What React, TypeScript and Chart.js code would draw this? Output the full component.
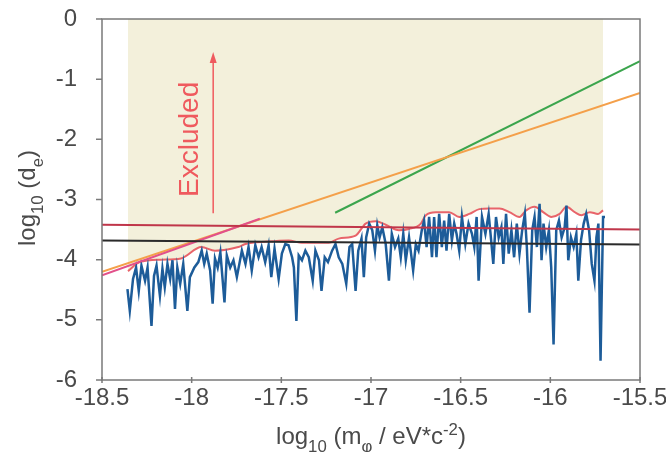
import React, { useEffect, useRef } from 'react';
import { Chart, registerables } from 'chart.js';

Chart.register(...registerables);

// ---------- data ----------
const xTickValues = [-18.5, -18, -17.5, -17, -16.5, -16, -15.5];
const xTickLabels = ['-18.5', '-18', '-17.5', '-17', '-16.5', '-16', '-15.5'];
const yTickValues = [0, -1, -2, -3, -4, -5, -6];
const yTickLabels = ['0', '-1', '-2', '-3', '-4', '-5', '-6'];

const blueX = [
  -18.358, -18.345, -18.327, -18.31, -18.295, -18.28, -18.26, -18.246, -18.224, -18.21,
  -18.196, -18.177, -18.163, -18.15, -18.135, -18.12, -18.107, -18.093, -18.08, -18.064,
  -18.047, -18.024, -18.01, -17.985, -17.963, -17.944, -17.93, -17.916, -17.897, -17.883,
  -17.87, -17.855, -17.84, -17.817, -17.804, -17.785, -17.767, -17.748, -17.72, -17.7,
  -17.683, -17.665, -17.645, -17.627, -17.61, -17.59, -17.571, -17.556, -17.538, -17.515,
  -17.497, -17.478, -17.46, -17.44, -17.43, -17.416, -17.403, -17.385, -17.366, -17.347,
  -17.325, -17.31, -17.29, -17.276, -17.258, -17.24, -17.217, -17.198, -17.18, -17.16,
  -17.138, -17.12, -17.105, -17.086, -17.071, -17.053, -17.04, -17.027, -17.01, -16.993,
  -16.978, -16.965, -16.952, -16.937, -16.918, -16.9, -16.884, -16.866, -16.848, -16.834,
  -16.82, -16.806, -16.788, -16.765, -16.75, -16.735, -16.717, -16.704, -16.69, -16.676,
  -16.66, -16.648, -16.635, -16.62, -16.605, -16.592, -16.579, -16.564, -16.549, -16.536,
  -16.523, -16.508, -16.493, -16.474, -16.456, -16.437, -16.424, -16.411, -16.4, -16.381,
  -16.362, -16.344, -16.33, -16.318, -16.303, -16.288, -16.273, -16.262, -16.247, -16.232,
  -16.217, -16.202, -16.187, -16.172, -16.157, -16.142, -16.131, -16.116, -16.101, -16.088,
  -16.075, -16.06, -16.049, -16.038, -16.023, -16.008, -15.995, -15.982, -15.967, -15.952,
  -15.937, -15.92, -15.91, -15.9, -15.885, -15.87, -15.855, -15.844, -15.829, -15.814,
  -15.8, -15.784, -15.769, -15.754, -15.743, -15.732, -15.72, -15.706, -15.695,
];
const blueY = [
  -4.49, -4.85, -4.32, -4.13, -4.52, -4.1, -4.35, -4.13, -5.1, -4.27,
  -4.1, -4.6, -4.15, -4.46, -4.07, -4.32, -4.01, -4.82, -4.13, -4.4,
  -4.07, -4.85, -4.29, -4.13, -4.04, -3.85, -4.07, -3.9, -4.18, -4.73,
  -3.98, -4.13, -3.88, -4.71, -3.93, -4.13, -4.01, -4.29, -3.85, -4.07,
  -3.79, -4.18, -3.76, -3.96, -3.79, -4.04, -3.76, -4.29, -3.82, -4.32,
  -3.9, -3.74, -3.76, -3.96, -4.13, -5.02, -3.93, -4.01, -3.85, -3.96,
  -4.35, -3.85, -4.01, -4.52, -3.96, -4.04, -3.85, -3.74, -3.96, -4.07,
  -4.4, -3.79, -3.74, -4.52, -3.85, -3.65, -4.29, -3.63, -3.4, -3.51,
  -3.85, -3.43, -3.63, -3.46, -3.74, -4.35, -3.57, -3.79, -3.65, -3.96,
  -3.57, -4.01, -3.63, -4.18, -3.74, -3.85, -3.51, -3.35, -3.79, -3.29,
  -3.96, -3.29, -3.96, -3.24, -3.79, -3.35, -3.85, -3.24, -3.68, -3.4,
  -3.57, -3.85, -3.29, -3.74, -3.4, -3.57, -3.79, -3.29, -4.35, -3.29,
  -3.57, -3.24, -3.68, -4.07, -3.29, -3.63, -3.46, -4.07, -3.24, -3.9,
  -3.51, -3.96, -3.4, -3.9, -3.51, -3.24, -3.79, -4.88, -3.51, -3.29,
  -3.79, -3.07, -4.01, -3.4, -3.79, -3.51, -4.13, -5.41, -3.51, -3.35,
  -3.63, -3.46, -3.1, -4.01, -3.63, -3.79, -3.57, -4.35, -3.68, -3.4,
  -3.24, -3.51, -4.07, -4.35, -3.63, -3.4, -5.68, -3.29, -3.29,
];

const envX = [
  -18.355, -18.29, -18.17, -18.06, -17.946, -17.87, -17.74, -17.7, -17.58, -17.46,
  -17.385, -17.235, -17.18, -17.086, -17.03, -16.974, -16.918, -16.844, -16.788, -16.722,
  -16.694, -16.638, -16.564, -16.508, -16.452, -16.396, -16.34, -16.284, -16.228, -16.172,
  -16.135, -16.088, -16.04, -15.995, -15.948, -15.91, -15.864, -15.827, -15.78, -15.734,
  -15.706,
];
const envY = [
  -4.19, -4.04, -4.0, -3.98, -3.79, -3.85, -3.79, -3.74, -3.7, -3.68,
  -3.72, -3.72, -3.65, -3.6, -3.4, -3.36, -3.42, -3.51, -3.49, -3.4,
  -3.26, -3.21, -3.21, -3.29, -3.24, -3.16, -3.15, -3.15, -3.21, -3.29,
  -3.18, -3.12, -3.21, -3.29, -3.24, -3.12, -3.21, -3.26, -3.21, -3.24,
  -3.18,
];

const redLineX = [-18.5, -15.5];
const redLineY = [-3.42, -3.5];
const blackLineX = [-18.5, -15.5];
const blackLineY = [-3.68, -3.75];
const orangeX = [-18.5, -15.5];
const orangeY = [-4.2, -1.23];
const pinkX = [-18.5, -17.62];
const pinkY = [-4.26, -3.32];
const greenX = [-17.2, -15.5];
const greenY = [-3.22, -0.7];

const arrowX = -17.88;
const arrowFrom = -3.23;
const arrowTo = -0.55;
const excludedText = 'Excluded';
const excludedX = -18.01;
const excludedY = -2.0;

const FONT = '"Liberation Sans", Arial, sans-serif';

const pts = (xs: number[], ys: number[]) => xs.map((x, i) => ({ x, y: ys[i] }));

type Part = { t: string; k: 'n' | 'sub' | 'sup' };

function drawRich(ctx: CanvasRenderingContext2D, parts: Part[], cx: number, cy: number, size: number, rotate: boolean, color: string) {
  ctx.save();
  ctx.translate(cx, cy);
  if (rotate) ctx.rotate(-Math.PI / 2);
  const small = size * 0.7;
  const widths = parts.map((p) => {
    ctx.font = `${p.k === 'n' ? size : small}px ${FONT}`;
    return ctx.measureText(p.t).width;
  });
  const total = widths.reduce((a, b) => a + b, 0);
  let x = -total / 2;
  ctx.fillStyle = color;
  ctx.textBaseline = 'alphabetic';
  ctx.textAlign = 'left';
  const base = size * 0.35;
  parts.forEach((p, i) => {
    ctx.font = `${p.k === 'n' ? size : small}px ${FONT}`;
    const dy = p.k === 'sub' ? size * 0.3 : p.k === 'sup' ? -size * 0.38 : 0;
    ctx.fillText(p.t, x, base + dy);
    x += widths[i];
  });
  ctx.restore();
}

const yTitle: Part[] = [
  { t: 'log', k: 'n' }, { t: '10', k: 'sub' }, { t: ' (d', k: 'n' }, { t: 'e', k: 'sub' }, { t: ')', k: 'n' },
];
const xTitle: Part[] = [
  { t: 'log', k: 'n' }, { t: '10', k: 'sub' }, { t: ' (m', k: 'n' }, { t: 'φ', k: 'sub' },
  { t: ' / eV*c', k: 'n' }, { t: '-2', k: 'sup' }, { t: ')', k: 'n' },
];

const decorPlugin = {
  id: 'decor',
  afterDatasetsDraw(chart: any) {
    const { ctx, scales } = chart;
    const xs = scales.x;
    const ys = scales.y;
    const ax = xs.getPixelForValue(arrowX);
    const ay1 = ys.getPixelForValue(arrowFrom);
    const ay2 = ys.getPixelForValue(arrowTo);
    ctx.save();
    ctx.strokeStyle = '#ef5a5e';
    ctx.fillStyle = '#ef5a5e';
    ctx.lineWidth = 1.5;
    ctx.beginPath();
    ctx.moveTo(ax, ay1);
    ctx.lineTo(ax, ay2 + 8);
    ctx.stroke();
    ctx.beginPath();
    ctx.moveTo(ax, ay2);
    ctx.lineTo(ax - 3.5, ay2 + 11);
    ctx.lineTo(ax + 3.5, ay2 + 11);
    ctx.closePath();
    ctx.fill();
    const lx = xs.getPixelForValue(excludedX);
    const ly = ys.getPixelForValue(excludedY);
    ctx.translate(lx, ly);
    ctx.rotate(-Math.PI / 2);
    ctx.font = `28px ${FONT}`;
    ctx.textAlign = 'center';
    ctx.textBaseline = 'middle';
    ctx.fillText(excludedText, 0, 0);
    ctx.restore();
  },
  afterDraw(chart: any) {
    const { ctx, chartArea, scales } = chart;
    const { left, right, top, bottom } = chartArea;
    ctx.save();
    ctx.strokeStyle = '#7a7a7a';
    ctx.lineWidth = 1.5;
    ctx.strokeRect(left, top, right - left, bottom - top);
    ctx.beginPath();
    xTickValues.forEach((v) => {
      const px = scales.x.getPixelForValue(v);
      ctx.moveTo(px, bottom - 3);
      ctx.lineTo(px, bottom + 3);
    });
    yTickValues.forEach((v) => {
      const py = scales.y.getPixelForValue(v);
      ctx.moveTo(left - 6, py);
      ctx.lineTo(left, py);
    });
    ctx.stroke();
    ctx.restore();
    drawRich(ctx, yTitle, 27, 198, 24, true, '#4a4a4a');
    drawRich(ctx, xTitle, (left + right) / 2, 436, 24, false, '#4a4a4a');
  },
};

export default function App() {
  const ref = useRef<HTMLCanvasElement | null>(null);
  useEffect(() => {
    if (!ref.current) return;
    const line = (data: any, color: string, order: number, width = 2) => ({
      data,
      borderColor: color,
      borderWidth: width,
      pointRadius: 0,
      fill: false,
      tension: 0,
      order,
    });
    const chart = new Chart(ref.current, {
      type: 'line',
      data: {
        datasets: [
          {
            ...line(pts(envX, envY), '#e8646a', 10, 2),
            fill: 'end',
            backgroundColor: '#f3f0db',
            cubicInterpolationMode: 'monotone',
          },
          line(pts(blueX, blueY), '#1d5c99', 5, 2.5),
          line(pts(orangeX, orangeY), '#f4a04a', 4),
          line(pts(greenX, greenY), '#3ba54d', 4),
          line(pts(pinkX, pinkY), '#e2508a', 3),
          line(pts(redLineX, redLineY), '#c0364a', 2),
          line(pts(blackLineX, blackLineY), '#2a2a2a', 1),
        ] as any,
      },
      options: {
        animation: false,
        responsive: false,
        maintainAspectRatio: false,
        layout: { padding: { top: 19, right: 26, left: 0, bottom: 0 } },
        plugins: { legend: { display: false }, tooltip: { enabled: false } },
        scales: {
          x: {
            type: 'linear',
            min: -18.5,
            max: -15.5,
            afterBuildTicks: (s: any) => { s.ticks = xTickValues.map((v) => ({ value: v })); },
            afterFit: (s: any) => { s.height = 72; s.paddingLeft = 0; s.paddingRight = 0; },
            grid: { display: false, drawTicks: false },
            border: { display: false },
            ticks: {
              padding: 4,
              maxRotation: 0,
              autoSkip: false,
              color: '#4a4a4a',
              font: { family: FONT, size: 24 },
              callback: (v: any) => xTickLabels[xTickValues.indexOf(Number(v))] ?? '',
            },
          },
          y: {
            type: 'linear',
            min: -6,
            max: 0,
            afterBuildTicks: (s: any) => { s.ticks = yTickValues.map((v) => ({ value: v })); },
            afterFit: (s: any) => { s.width = 102; s.paddingTop = 0; s.paddingBottom = 0; },
            grid: { display: false, drawTicks: false },
            border: { display: false },
            ticks: {
              padding: 25,
              color: '#4a4a4a',
              font: { family: FONT, size: 24 },
              callback: (v: any) => yTickLabels[yTickValues.indexOf(Number(v))] ?? '',
            },
          },
        },
      } as any,
      plugins: [decorPlugin],
    });
    return () => chart.destroy();
  }, []);
  return (
    <div style={{ position: 'fixed', left: 0, top: 0, width: 666, height: 452, background: '#fff' }}>
      <canvas ref={ref} width={666} height={452} />
    </div>
  );
}
